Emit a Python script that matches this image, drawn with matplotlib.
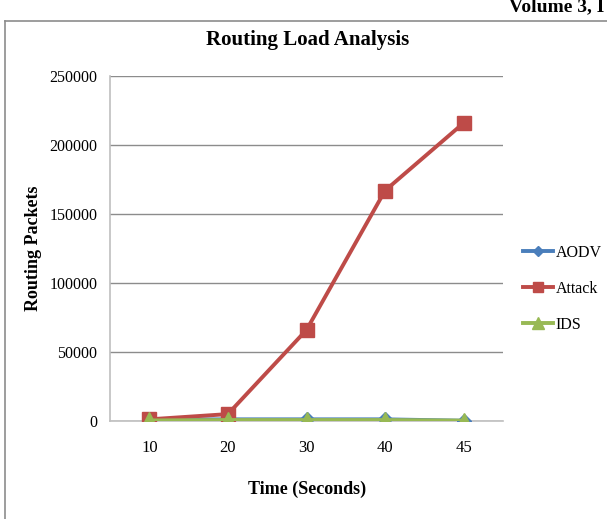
import matplotlib
matplotlib.use("Agg")
import matplotlib.pyplot as plt
from matplotlib.lines import Line2D

# Routing load per simulation time
times = ["10", "20", "30", "40", "45"]
aodv = [1000, 1200, 1200, 1200, 200]
attack = [1200, 5000, 66000, 167000, 216000]
ids = [400, 700, 700, 700, 300]
y_ticks = [0, 50000, 100000, 150000, 200000, 250000]

W, H = 607, 519
fig = plt.figure(figsize=(W / 100, H / 100), dpi=100)
plt.rcParams["font.family"] = ["Liberation Serif", "DejaVu Serif"]

# page frame and running header
fig.add_artist(Line2D([5 / W, 5 / W], [0, 1 - 21 / H], color="#8c8c8c", lw=1.2))
fig.add_artist(Line2D([5 / W, 1], [1 - 21 / H, 1 - 21 / H], color="#8c8c8c", lw=1.2))
fig.text(604 / W, 1 - 7 / H, "Volume 3, I", fontsize=14, fontweight="bold",
         ha="right", va="center", color="black")

ax = fig.add_axes([110 / W, 1 - 421 / H, (503 - 110) / W, (421 - 76) / H])
x = list(range(len(times)))

ax.plot(x, aodv, color="#4A7EBB", lw=2.8, marker="D", ms=7, label="AODV", zorder=3)
ax.plot(x, attack, color="#BE4B48", lw=2.8, marker="s", ms=10, label="Attack", zorder=4)
ax.plot(x, ids, color="#98B954", lw=2.8, marker="^", ms=11, label="IDS", zorder=5)

ax.set_xlim(-0.5, len(times) - 0.5)
ax.set_ylim(0, 250000)
ax.set_xticks(x)
ax.set_xticklabels(times)
ax.set_yticks(y_ticks)
ax.set_yticklabels([str(v) for v in y_ticks])
ax.tick_params(axis="x", length=0, pad=14, labelsize=12)
ax.tick_params(axis="y", length=0, pad=9, labelsize=11.5)
ax.yaxis.grid(True, color="#8c8c8c", lw=1.0)
ax.set_axisbelow(True)
for s in ["top", "right"]:
    ax.spines[s].set_visible(False)
ax.spines["left"].set_color("#bfbfbf")
ax.spines["bottom"].set_color("#bfbfbf")
ax.spines["left"].set_linewidth(1.2)
ax.spines["bottom"].set_linewidth(1.2)

fig.text(308 / W, 1 - 40 / H, "Routing Load Analysis", fontsize=15, fontweight="bold",
         ha="center", va="center")
fig.text(307 / W, 1 - 489 / H, "Time (Seconds)", fontsize=13, fontweight="bold",
         ha="center", va="center")
fig.text(33 / W, 1 - 248 / H, "Routing Packets", fontsize=13, fontweight="bold",
         ha="center", va="center", rotation=90)

ax.legend(loc="center left", bbox_to_anchor=(523 / W, 1 - 289 / H),
          bbox_transform=fig.transFigure, frameon=False, fontsize=11.5,
          handlelength=1.9, handletextpad=0.15, labelspacing=1.25, borderpad=0,
          borderaxespad=0, markerscale=0.75)

fig.savefig("out.png", dpi=100)
